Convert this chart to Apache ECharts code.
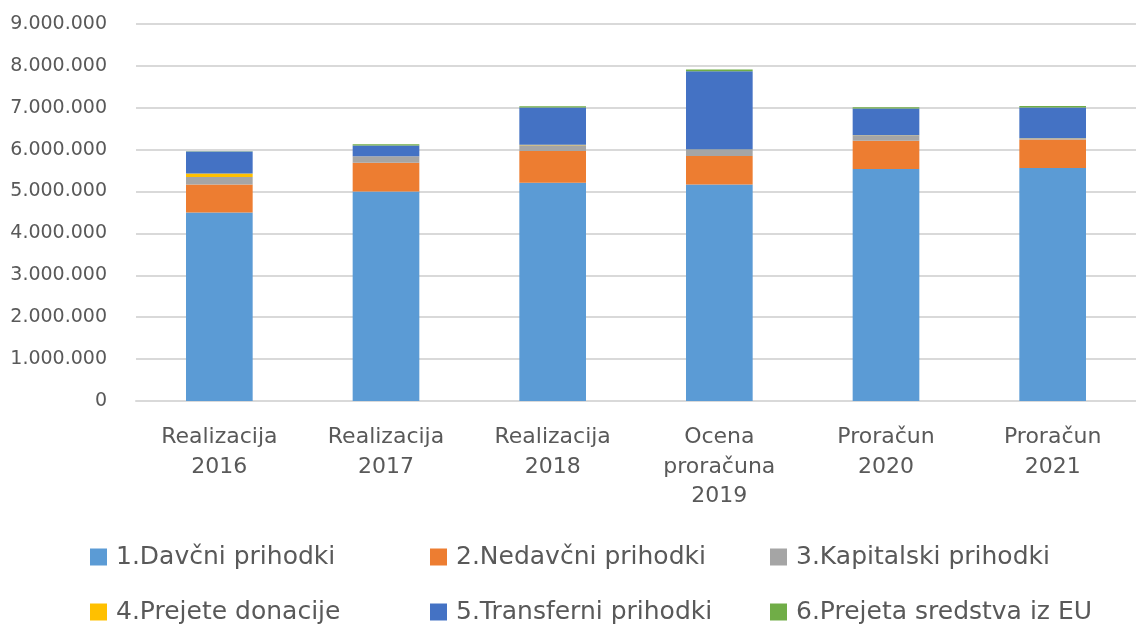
<!DOCTYPE html>
<html>
<head>
<meta charset="utf-8">
<script src="https://cdn.jsdelivr.net/npm/echarts@6/dist/echarts.min.js"></script>
<style>
html,body{margin:0;padding:0;background:#fff;}
#c{width:1136px;height:624px;}
</style>
</head>
<body>
<div id="c"></div>
<script>
const categories = ['Realizacija\n2016', 'Realizacija\n2017', 'Realizacija\n2018', 'Ocena\nproračuna\n2019', 'Proračun\n2020', 'Proračun\n2021'];
const seriesNames = ['1.Davčni prihodki', '2.Nedavčni prihodki', '3.Kapitalski prihodki', '4.Prejete donacije', '5.Transferni prihodki', '6.Prejeta sredstva iz EU'];
const davcni = [4500000, 5000000, 5210000, 5170000, 5540000, 5560000];
const nedavcni = [670000, 690000, 760000, 680000, 670000, 685000];
const kapitalski = [180000, 150000, 135000, 150000, 130000, 20000];
const donacije = [80000, 5000, 10000, 5000, 5000, 10000];
const transferni = [525000, 255000, 890000, 1870000, 640000, 730000];
const eu = [5000, 30000, 30000, 40000, 25000, 40000];
const yTicks = [0, 1000000, 2000000, 3000000, 4000000, 5000000, 6000000, 7000000, 8000000, 9000000];

const colors = ['#5B9BD5', '#ED7D31', '#A5A5A5', '#FFC000', '#4472C4', '#70AD47'];
const values = [davcni, nedavcni, kapitalski, donacije, transferni, eu];
const font = '"DejaVu Sans", "Open Sans", sans-serif';

const chart = echarts.init(document.getElementById('c'), null, {renderer: 'canvas'});

const legendPos = [
  {left: 90, top: 543}, {left: 430, top: 543}, {left: 770, top: 543},
  {left: 90, top: 598}, {left: 430, top: 598}, {left: 770, top: 598}
];

const legends = seriesNames.map((n, i) => ({
  data: [n],
  left: legendPos[i].left,
  top: legendPos[i].top,
  orient: 'horizontal',
  icon: 'rect',
  itemWidth: 17,
  itemHeight: 17,
  itemGap: 0,
  padding: 0,
  selectedMode: false,
  textStyle: {fontFamily: font, fontSize: 25, lineHeight: 28, color: '#595959', padding: [0, 0, 0, 4]}
}));

chart.setOption({
  animation: false,
  color: colors,
  textStyle: {fontFamily: font},
  grid: {left: 136, right: -11, top: 24, bottom: 223, containLabel: false},
  legend: legends,
  xAxis: {
    type: 'category',
    data: categories,
    axisTick: {show: false},
    axisLine: {lineStyle: {color: '#D9D9D9', width: 2}},
    axisLabel: {fontFamily: font, fontSize: 22, color: '#595959', lineHeight: 29.5, margin: 22, interval: 0}
  },
  yAxis: {
    type: 'value',
    min: yTicks[0],
    max: yTicks[yTicks.length - 1],
    interval: 1000000,
    axisLine: {show: false},
    axisTick: {show: false},
    splitLine: {lineStyle: {color: '#D9D9D9', width: 2}},
    axisLabel: {
      fontFamily: font, fontSize: 19, color: '#595959', margin: 29,
      formatter: v => String(v).replace(/\B(?=(\d{3})+(?!\d))/g, '.')
    }
  },
  series: seriesNames.map((n, i) => ({
    name: n,
    type: 'bar',
    stack: 'total',
    barWidth: '40%',
    data: values[i],
    itemStyle: {color: colors[i]}
  }))
});
</script>
</body>
</html>
